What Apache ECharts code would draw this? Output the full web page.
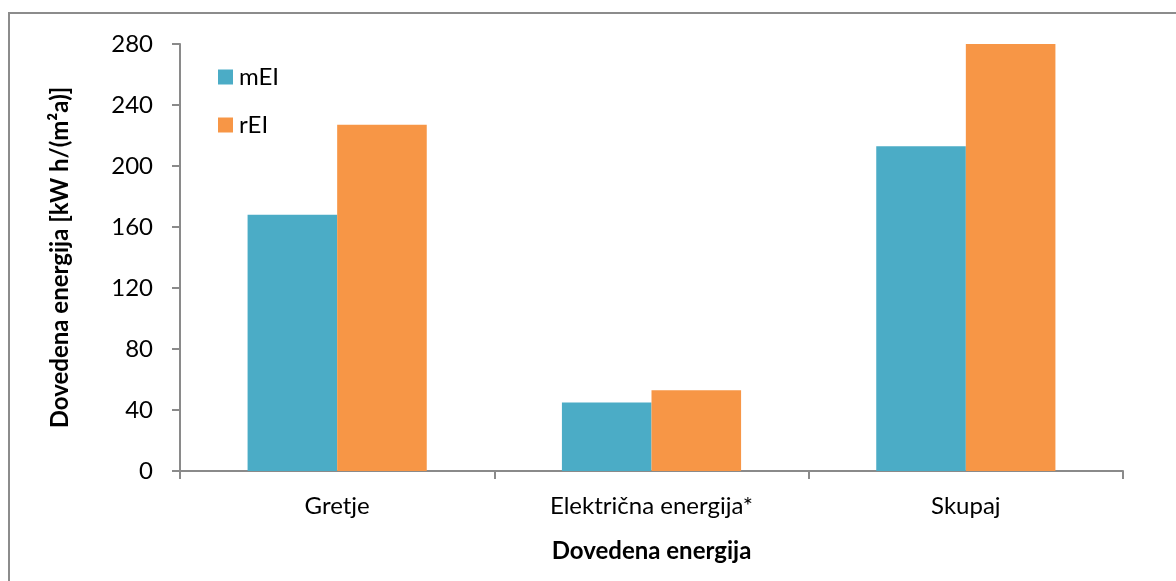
<!DOCTYPE html>
<html>
<head>
<meta charset="utf-8">
<script src="https://cdn.jsdelivr.net/npm/echarts@6/dist/echarts.min.js"></script>
<style>
html,body{margin:0;padding:0;background:#fff;width:1176px;height:581px;overflow:hidden;}
#frame{position:absolute;left:8px;top:12px;width:1200px;height:620px;border:2px solid #8c8c8c;box-sizing:border-box;}
#chart{position:absolute;left:0;top:0;width:1176px;height:581px;}
</style>
</head>
<body>
<div id="frame"></div>
<div id="chart"></div>
<script>
const categories = ['Gretje', 'Električna energija*', 'Skupaj'];
const seriesNames = ['mEI', 'rEI'];
const mEI = [168, 45, 213];
const rEI = [227, 53, 281];
const yTicks = [0, 40, 80, 120, 160, 200, 240, 280];
const colors = ['#4BACC6', '#F79646'];
const FONT = 'Lato';

const chart = echarts.init(document.getElementById('chart'), null, {renderer: 'canvas'});
chart.setOption({
  backgroundColor: 'transparent',
  animation: false,
  textStyle: {fontFamily: FONT},
  grid: {left: 180, right: 53, top: 44, bottom: 110, containLabel: false},
  legend: {
    orient: 'vertical', left: 218, top: 65, padding: 0,
    itemWidth: 15, itemHeight: 15, itemGap: 24,
    icon: 'rect',
    textStyle: {fontFamily: FONT, fontSize: 24, lineHeight: 24, color: '#000', padding: [0, 0, 0, 1]},
    data: seriesNames
  },
  xAxis: {
    type: 'category', data: categories,
    name: 'Dovedena energija', nameLocation: 'middle', nameGap: 68,
    nameTextStyle: {fontFamily: FONT, fontSize: 24, fontWeight: 'bold', color: '#000'},
    axisLine: {lineStyle: {color: '#8a8a8a', width: 2}},
    axisTick: {show: true, length: 8, lineStyle: {color: '#8a8a8a', width: 2}},
    axisLabel: {fontFamily: FONT, fontSize: 24, color: '#000', margin: 23}
  },
  yAxis: {
    type: 'value', min: yTicks[0], max: yTicks[yTicks.length - 1], interval: 40,
    name: 'Dovedena energija [kW h/(m²a)]', nameLocation: 'middle', nameGap: 108, nameRotate: 90,
    nameTextStyle: {fontFamily: FONT, fontSize: 24, fontWeight: 'bold', color: '#000'},
    axisLine: {show: true, lineStyle: {color: '#8a8a8a', width: 2}},
    axisTick: {show: true, length: 8, lineStyle: {color: '#8a8a8a', width: 2}},
    axisLabel: {fontFamily: FONT, fontSize: 24, color: '#000', margin: 27},
    splitLine: {show: false}
  },
  series: [
    {name: seriesNames[0], type: 'bar', data: mEI, barGap: '0%', barCategoryGap: '43%', itemStyle: {color: colors[0]}},
    {name: seriesNames[1], type: 'bar', data: rEI, barGap: '0%', barCategoryGap: '43%', itemStyle: {color: colors[1]}}
  ]
});
</script>
</body>
</html>
